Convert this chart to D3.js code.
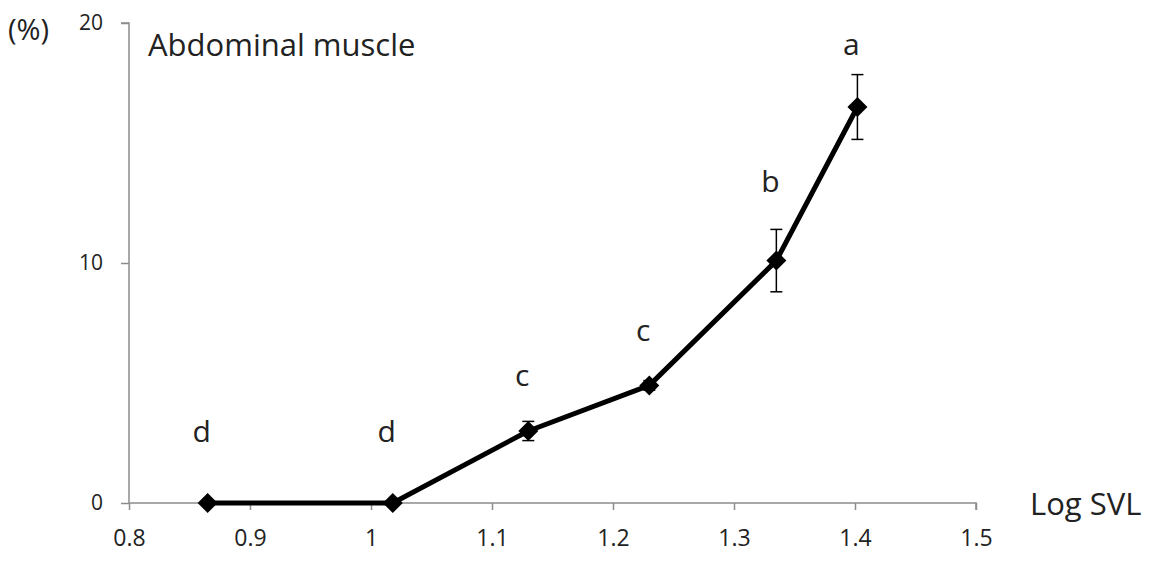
<!DOCTYPE html>
<html>
<head>
<meta charset="utf-8">
<script src="https://cdn.jsdelivr.net/npm/d3@7"></script>
<style>
  body { margin: 0; background: #fff; }
  svg text { font-family: 'Open Sans', 'DejaVu Sans', sans-serif; fill: #222; }
</style>
</head>
<body>
<div id="chart"></div>
<script>
// values
const logSVL = [0.865, 1.018, 1.13, 1.23, 1.335, 1.402]
const muscle = [0, 0, 3.0, 4.9, 10.1, 16.5]
const stdErr = [0, 0, 0.4, 0.2, 1.3, 1.35]
const groups = ['d', 'd', 'c', 'c', 'b', 'a']
const groupAt = [3.0, 3.0, 5.3, 7.2, 13.4, 19.1]
const xTicks = [0.8, 0.9, 1.0, 1.1, 1.2, 1.3, 1.4, 1.5]
const yTicks = [0, 10, 20]

const width = 1152
const height = 561
const padding = { left: 129, right: 176, top: 23, bottom: 58 }

const svg = d3.select('#chart')
  .append('svg')
  .attr('width', width)
  .attr('height', height)

const x = d3.scaleLinear()
  .domain([0.8, 1.5])
  .range([padding.left, width - padding.right])
const y = d3.scaleLinear()
  .domain([0, 20])
  .range([height - padding.bottom, padding.top])

const axisColor = '#8c8c8c'

// x axis
const xAxis = svg.append('g')
  .attr('transform', 'translate(0,' + y(0) + ')')
  .call(d3.axisBottom(x).tickValues(xTicks).tickSize(7).tickPadding(20)
    .tickFormat(d => d3.format('')(+d.toFixed(1))))
xAxis.attr('font-size', 23)
xAxis.select('.domain').attr('stroke', axisColor).attr('stroke-width', 1.5)
  .attr('d', 'M' + x(0.8) + ',0H' + x(1.5) + 'V7')
xAxis.selectAll('.tick line').attr('stroke', axisColor).attr('stroke-width', 1.5)
xAxis.selectAll('.tick text').style('font-size', '23px').attr('fill', '#111')

// y axis
const yAxis = svg.append('g')
  .attr('transform', 'translate(' + x(0.8) + ',0)')
  .call(d3.axisLeft(y).tickValues(yTicks).tickSize(8).tickPadding(18))
yAxis.attr('font-size', 21)
yAxis.select('.domain').attr('stroke', axisColor).attr('stroke-width', 1.5)
  .attr('d', 'M-8,' + y(20) + 'H0V' + y(0))
yAxis.selectAll('.tick line').attr('stroke', axisColor).attr('stroke-width', 1.5)
yAxis.selectAll('.tick text').style('font-size', '21px').attr('fill', '#111')
  .attr('dy', '0.32em')

// titles
svg.append('text').attr('x', 8).attr('y', 40).style('font-size', '29px').text('(%)')
svg.append('text').attr('x', 148).attr('y', 56).style('font-size', '31px').text('Abdominal muscle')
svg.append('text').attr('x', 1030).attr('y', 515).style('font-size', '31px').text('Log SVL')

const points = logSVL.map((v, i) => ({ x: v, y: muscle[i], se: stdErr[i], g: groups[i], gy: groupAt[i] }))

// error bars
const err = svg.append('g').selectAll('g')
  .data(points.filter(d => d.se > 0))
  .join('g')
err.append('line')
  .attr('x1', d => x(d.x)).attr('x2', d => x(d.x))
  .attr('y1', d => y(d.y - d.se)).attr('y2', d => y(d.y + d.se))
  .attr('stroke', '#000').attr('stroke-width', 1.5)
err.selectAll('.cap')
  .data(d => [d.y - d.se, d.y + d.se].map(v => ({ x: d.x, v })))
  .join('line')
  .attr('x1', d => x(d.x) - 6).attr('x2', d => x(d.x) + 6)
  .attr('y1', d => y(d.v)).attr('y2', d => y(d.v))
  .attr('stroke', '#000').attr('stroke-width', 1.5)

// line
svg.append('path')
  .datum(points)
  .attr('fill', 'none')
  .attr('stroke', '#000')
  .attr('stroke-width', 5)
  .attr('stroke-linejoin', 'round')
  .attr('d', d3.line().x(d => x(d.x)).y(d => y(d.y)))

// diamond markers
svg.append('g').selectAll('path')
  .data(points)
  .join('path')
  .attr('transform', d => 'translate(' + x(d.x) + ',' + y(d.y) + ')')
  .attr('d', 'M0,-10L10,0L0,10L-10,0Z')
  .attr('fill', '#000')

// significance letters
svg.append('g').selectAll('text')
  .data(points)
  .join('text')
  .attr('x', d => x(d.x) - 6)
  .attr('y', d => y(d.gy))
  .attr('text-anchor', 'middle')
  .attr('dy', '0.35em')
  .style('font-size', '30px')
  .text(d => d.g)
</script>
</body>
</html>
